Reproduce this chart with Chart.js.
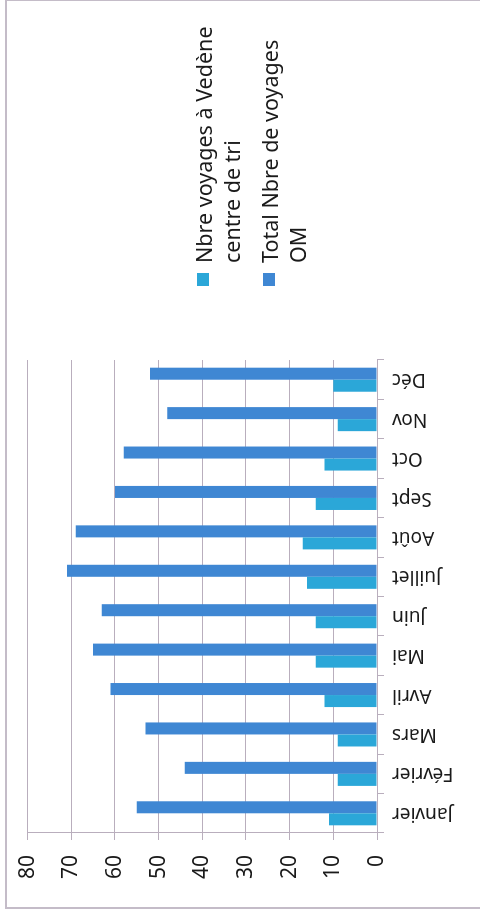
<!DOCTYPE html>
<html lang="fr">
<head>
<meta charset="utf-8">
<title>Nombre de voyages</title>
<script src="https://cdn.jsdelivr.net/npm/chart.js@4/dist/chart.umd.min.js"></script>
<style>
  html, body { margin: 0; padding: 0; background: #fff; overflow: hidden; }
  body { width: 480px; height: 917px; position: relative; }
  /* the chart is drawn landscape, then turned a quarter turn like the scan */
  #sheet {
    position: absolute; left: 0; top: 0;
    width: 917px; height: 480px;
    transform-origin: 0 0;
    transform: translate(0, 917px) rotate(-90deg);
  }
  #frame {
    position: absolute; left: 8px; top: 5px; width: 906px; height: 500px;
    border: 2px solid #c4bcc8; border-bottom: none;
  }
  #chart { position: absolute; left: 0; top: 0; }
  #legend {
    position: absolute; left: 631px; top: 190px;
    font-family: 'Noto Sans', sans-serif; font-size: 21.5px; line-height: 28px; color: #1a1a1a;
  }
  .item { display: flex; align-items: flex-start; margin-bottom: 10px; }
  .box { width: 13px; height: 12px; margin-top: 7px; margin-right: 10px; flex: none; }
</style>
</head>
<body>
<div id="sheet">
  <div id="frame"></div>
  <canvas id="chart" width="917" height="480" style="width:917px;height:480px"></canvas>
  <div id="legend"></div>
</div>
<script>
// données
const mois = ['Janvier', 'Février', 'Mars', 'Avril', 'Mai', 'Juin', 'Juillet', 'Août', 'Sept', 'Oct', 'Nov', 'Déc'];
const voyagesVedene = [11, 9, 9, 12, 14, 14, 16, 17, 14, 12, 9, 10];
const voyagesTotal = [55, 44, 53, 61, 65, 63, 71, 69, 60, 58, 48, 52];
const legendeVedene = ['Nbre voyages à Vedène', 'centre de tri'];
const legendeTotal = ['Total Nbre de voyages', 'OM'];
const graduations = [0, 10, 20, 30, 40, 50, 60, 70, 80];

const bleuClair = '#2ba7d8';
const bleu = '#3f87d3';
const gris = '#b9aebd';

Chart.defaults.font.family = "'Noto Sans', sans-serif";
Chart.defaults.color = '#1a1a1a';

const ctx = document.getElementById('chart').getContext('2d');
const chart = new Chart(ctx, {
    type: 'bar',
    data: {
        labels: mois,
        datasets: [
            { label: legendeVedene.join(' '), data: voyagesVedene, backgroundColor: bleuClair },
            { label: legendeTotal.join(' '), data: voyagesTotal, backgroundColor: bleu }
        ]
    },
    options: {
        responsive: false,
        animation: false,
        layout: { padding: { left: 0, right: 360, top: 26, bottom: 0 } },
        datasets: { bar: { categoryPercentage: 0.61, barPercentage: 1 } },
        plugins: { legend: { display: false }, tooltip: { enabled: false } },
        scales: {
            x: {
                grid: { display: true, drawOnChartArea: false, offset: true, color: gris, tickLength: 7 },
                border: { display: true, color: gris },
                ticks: { font: { size: 19 }, minRotation: 90, maxRotation: 90, autoSkip: false, padding: 8 },
                afterFit: (scale) => { scale.height = 103; }
            },
            y: {
                min: graduations[0],
                max: graduations[graduations.length - 1],
                grid: { color: gris, tickLength: 7 },
                border: { display: true, color: gris },
                ticks: { stepSize: 10, font: { size: 21 }, padding: 15 },
                afterFit: (scale) => { scale.width = 84; }
            }
        }
    }
});

// légende à droite, texte sur deux lignes comme dans l'original
const legend = document.getElementById('legend');
[[legendeVedene, bleuClair], [legendeTotal, bleu]].forEach(([lignes, couleur]) => {
    const item = document.createElement('div');
    item.className = 'item';
    const box = document.createElement('span');
    box.className = 'box';
    box.style.background = couleur;
    const txt = document.createElement('span');
    txt.innerHTML = lignes.join('<br>');
    item.appendChild(box);
    item.appendChild(txt);
    legend.appendChild(item);
});
</script>
</body>
</html>
